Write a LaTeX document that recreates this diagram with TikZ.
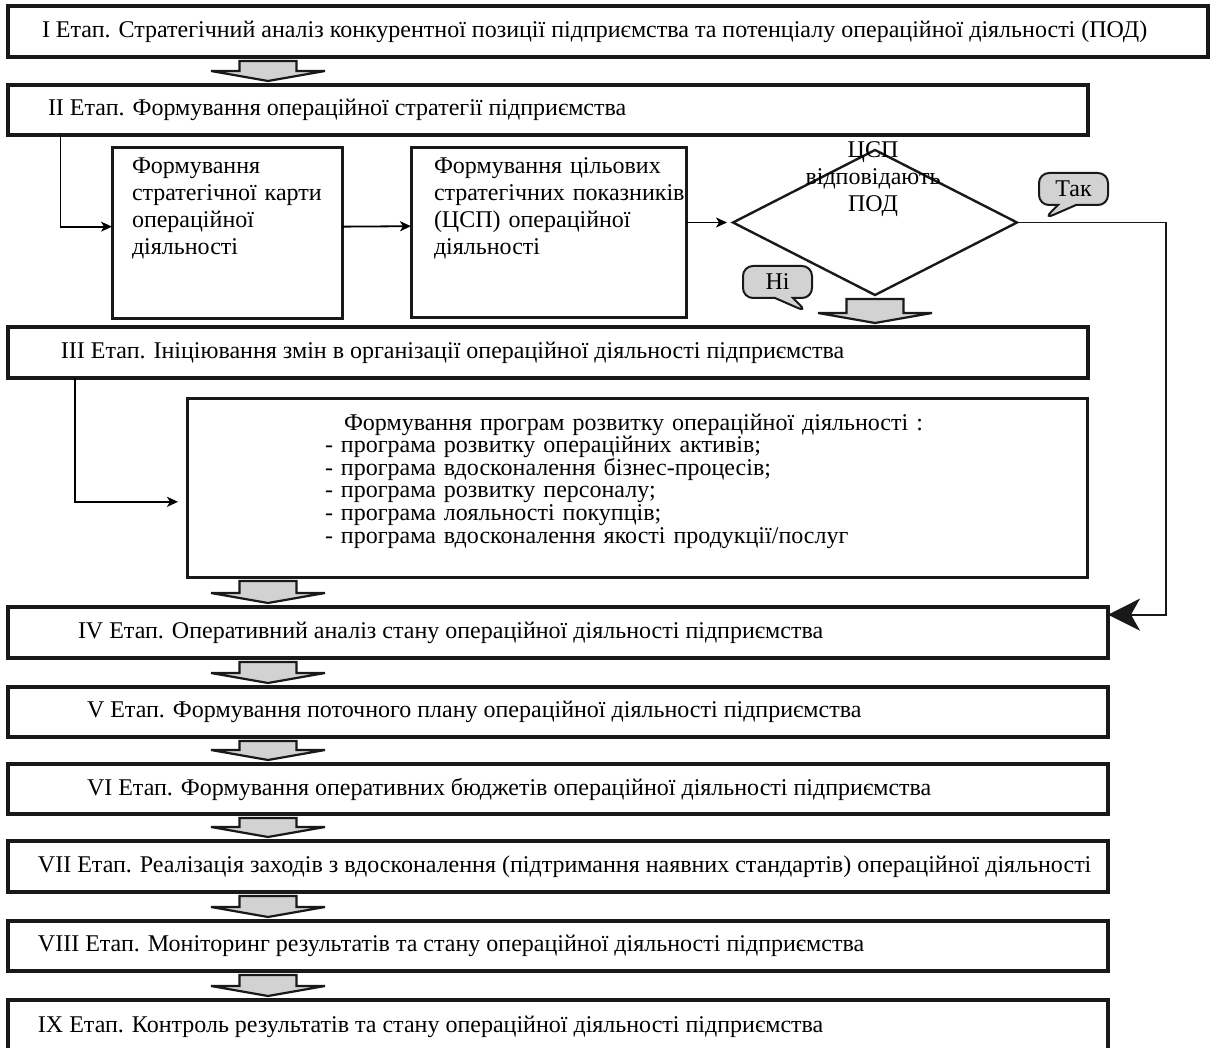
\documentclass[tikz,border=0pt]{standalone}
\usepackage{fontspec}
\setmainfont{Liberation Serif}
\usetikzlibrary{calc,shapes.geometric,shapes.callouts,arrows.meta}
\newcommand\blkarrow[3]{%
  \path[blockarrow] let \p1=(#2 |- #1.south), \p2=(#2 |- #3.north) in
    (\x1-14.25pt,\y1-2pt) -- (\x1+14.25pt,\y1-2pt) -- (\x1+14.25pt,\y2+7pt) -- (\x1+28.5pt,\y2+7pt)
    -- (\x1,\y2+2pt) -- (\x1-28.5pt,\y2+7pt) -- (\x1-14.25pt,\y2+7pt) -- cycle;}
\begin{document}
\begin{tikzpicture}[x=0.5pt,y=-0.5pt,
  font=\fontsize{12}{13.35}\selectfont,
  stagebox/.style={draw=black!90, line width=1.6pt, rectangle, inner ysep=0pt, outer sep=0pt, anchor=north west},
  subbox/.style={draw=black!90, line width=1.5pt, rectangle, align=left, anchor=north west, inner ysep=4pt, outer sep=0pt},
  blockarrow/.style={draw=black!90, fill=gray!35, line width=1.1pt, line join=miter},
  conn/.style={draw=black, line width=0.9pt, -{Stealth[length=5.5pt,width=5pt,inset=1.5pt]}},
  bigconn/.style={draw=black!90, line width=0.9pt, -{Stealth[length=16pt,width=16pt,inset=4.5pt]}},
  bubble/.style={rectangle callout, draw=black!90, fill=gray!35, line width=1pt, rounded corners=5pt,
    inner sep=0pt, minimum width=34.5pt, minimum height=16pt, callout pointer width=9pt}
]
\useasboundingbox (0,0) rectangle (1210,1048);

% stage boxes
\node[stagebox, minimum height=25.5pt, inner xsep=17pt] (s1) at (8,6)
  {\makebox[566pt][l]{I Етап. Стратегічний аналіз конкурентної позиції підприємства та потенціалу операційної діяльності (ПОД)}};
\node[stagebox, minimum height=25pt, inner xsep=20pt] (s2) at (8,85)
  {\makebox[500pt][l]{II Етап. Формування операційної стратегії підприємства}};
\node[stagebox, minimum height=25.5pt, inner xsep=26.5pt] (s3) at (8,327)
  {\makebox[487pt][l]{III Етап. Ініціювання змін в організації операційної діяльності підприємства}};
\node[stagebox, minimum height=25.5pt, inner xsep=35pt] (s4) at (8,607)
  {\makebox[480pt][l]{IV Етап. Оперативний аналіз стану операційної діяльності підприємства}};
\node[stagebox, minimum height=25pt, inner xsep=39.5pt] (s5) at (8,687)
  {\makebox[471pt][l]{V Етап. Формування поточного плану операційної діяльності підприємства}};
\node[stagebox, minimum height=25pt, inner xsep=39.5pt] (s6) at (8,764)
  {\makebox[471pt][l]{VI Етап. Формування оперативних бюджетів операційної діяльності підприємства}};
\node[stagebox, minimum height=25.5pt, inner xsep=15pt] (s7) at (8,841)
  {\makebox[520pt][l]{VII Етап. Реалізація заходів з вдосконалення (підтримання наявних стандартів) операційної діяльності}};
\node[stagebox, minimum height=25pt, inner xsep=15pt] (s8) at (8,921)
  {\makebox[520pt][l]{VIII Етап. Моніторинг результатів та стану операційної діяльності підприємства}};
\node[stagebox, minimum height=27pt, inner xsep=15pt] (s9) at (8,1000)
  {\makebox[520pt][l]{IX Етап. Контроль результатів та стану операційної діяльності підприємства}};

% sub boxes
\node[subbox, text width=95pt, inner xsep=10pt, text height=9pt, text depth=68.5pt] (card) at (112,148)
  {Формування\\стратегічної~карти\\операційної\\діяльності};
\node[subbox, text width=114.5pt, inner xsep=11.5pt, text height=9pt, text depth=68pt] (csp) at (411,148)
  {Формування~цільових\\стратегічних~показників\\(ЦСП)~операційної\\діяльності};
\node[subbox, text width=312pt, inner xsep=69pt, text height=12pt, text depth=69.5pt,
  font=\fontsize{12}{11.3}\selectfont] (prog) at (187,398)
  {\hspace*{9.5pt}Формування програм розвитку операційної діяльності :\\
   - програма розвитку операційних активів;\\
   - програма вдосконалення бізнес-процесів;\\
   - програма розвитку персоналу;\\
   - програма лояльності покупців;\\
   - програма вдосконалення якості продукції/послуг};

% decision
\node[diamond, draw=black!90, line width=1.2pt, minimum width=142pt, minimum height=72.5pt,
  inner sep=0pt, outer sep=0pt] (dec) at (875,222.5) {};
\node[align=center, inner sep=0pt] (dectext) at (873,179) {ЦСП\\відповідають\\ПОД};

% callouts
\node[bubble, callout absolute pointer={(1044,219)}] (yes) at (1073.5,189) {Так};
\node[bubble, callout absolute pointer={(807,312)}] (no) at (777.5,282) {Ні};

% helper coordinates
\coordinate (ax) at (268,0);
\coordinate (x60) at (60.5,0);
\coordinate (x75) at (75,0);
\coordinate (rx) at (1166,0);
\coordinate (s4in) at ($(s4.north east)!0.15!(s4.south east)$);

% block arrows
\blkarrow{s1}{ax}{s2}
\blkarrow{dec}{dec.south}{s3}
\blkarrow{prog}{ax}{s4}
\blkarrow{s4}{ax}{s5}
\blkarrow{s5}{ax}{s6}
\blkarrow{s6}{ax}{s7}
\blkarrow{s7}{ax}{s8}
\blkarrow{s8}{ax}{s9}

% connectors
\draw[conn] (x60 |- s2.south) |- ($(card.north west)!0.46!(card.south west)$);
\draw[conn] ($(card.north east)!0.46!(card.south east)$) -- ($(csp.north west)!0.46!(csp.south west)$);
\draw[conn, shorten >=3pt] (csp.east |- dec.west) -- (dec.west);
\draw[conn, shorten >=4.5pt] (x75 |- s3.south) |- ($(prog.north west)!0.58!(prog.south west)$);
\draw[bigconn] (dec.east) -- (rx |- dec.east) |- (s4in);
\end{tikzpicture}
\end{document}
